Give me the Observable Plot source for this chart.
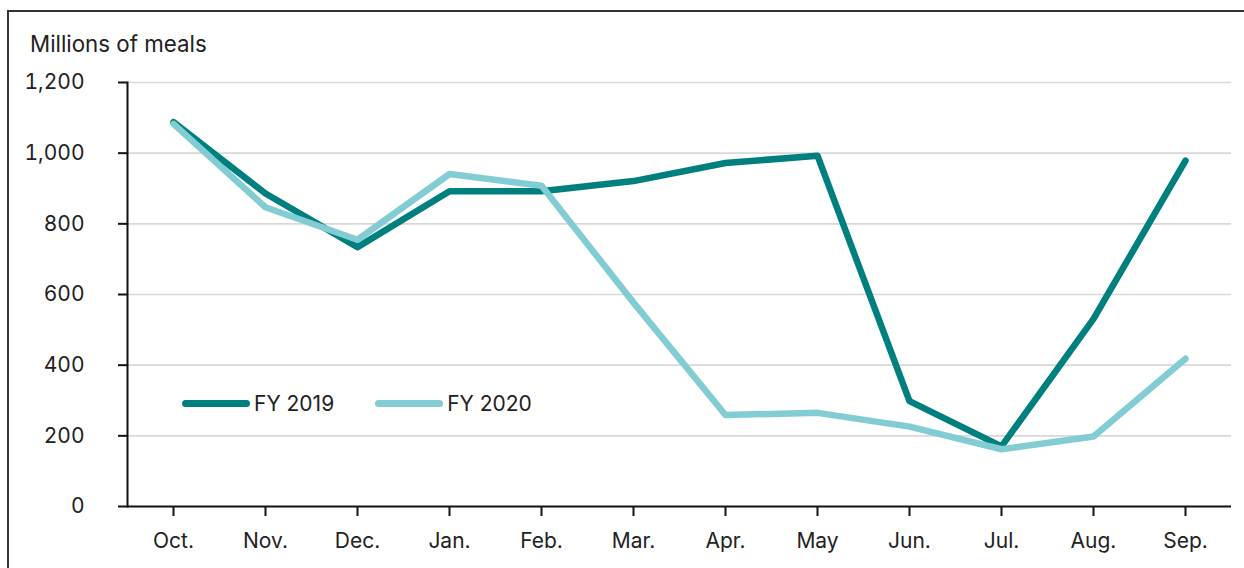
<!DOCTYPE html>
<html>
<head>
<meta charset="utf-8">
<script src="https://cdn.jsdelivr.net/npm/d3@7"></script>
<script src="https://cdn.jsdelivr.net/npm/@observablehq/plot@0.6"></script>
<style>
  html, body { margin: 0; padding: 0; background: #fff; overflow: hidden; }
  body { width: 1244px; height: 568px; position: relative; font-family: Inter, "Liberation Sans", sans-serif; color: #222; }
  #frame { position: absolute; left: 7px; top: 10px; width: 1260px; height: 580px; border-top: 2px solid #333; border-left: 2px solid #333; }
  #title { position: absolute; left: 30px; top: 30px; font-size: 22.3px; line-height: 28px; color: #222; }
  #chart { position: absolute; left: 0; top: 60px; }
  #legend { position: absolute; top: 391px; left: 182px; display: flex; align-items: center; font-size: 21px; color: #222; }
  .item { display: flex; align-items: center; margin-right: 41px; }
  .swatch { width: 68px; height: 7px; border-radius: 4px; margin-right: 4px; }
</style>
</head>
<body>
<div id="frame"></div>
<div id="title">Millions of meals</div>
<div id="chart"></div>
<div id="legend"></div>
<script>
const months = ["Oct.", "Nov.", "Dec.", "Jan.", "Feb.", "Mar.", "Apr.", "May", "Jun.", "Jul.", "Aug.", "Sep."];
const fy2019 = [1088, 886, 734, 892, 892, 921, 972, 993, 298, 170, 531, 979];
const fy2020 = [1083, 847, 755, 941, 908, 577, 259, 265, 226, 162, 198, 418];
const seriesNames = ["FY 2019", "FY 2020"];
const seriesColors = ["#007f7f", "#82ccd4"];
const yTicks = [0, 200, 400, 600, 800, 1000, 1200];

const data = [];
months.forEach((m, i) => {
  data.push({month: m, series: seriesNames[0], value: fy2019[i]});
  data.push({month: m, series: seriesNames[1], value: fy2020[i]});
});

const chart = Plot.plot({
  width: 1244,
  height: 508,
  marginLeft: 127,
  marginRight: 13,
  marginTop: 22,
  marginBottom: 62,
  style: {fontFamily: "Inter, 'Liberation Sans', sans-serif", fontSize: "21px", color: "#222", background: "transparent"},
  x: {type: "band", domain: months, padding: 0, label: null},
  y: {domain: [0, 1200], label: null},
  color: {domain: seriesNames, range: seriesColors},
  marks: [
    Plot.gridY(yTicks.filter(d => d > 0), {stroke: "#d9d9d9", strokeOpacity: 1, strokeWidth: 1.6}),
    Plot.frame({anchor: "left", stroke: "#111", strokeWidth: 2}),
    Plot.ruleY([0], {stroke: "#111", strokeWidth: 2}),
    Plot.axisY({ticks: yTicks, tickFormat: d3.format(","), tickSize: 9, tickPadding: 34, strokeWidth: 2, stroke: "#111", fill: "#222", label: null}),
    Plot.axisX({tickSize: 10, tickPadding: 17, strokeWidth: 2, stroke: "#111", fill: "#222", label: null}),
    Plot.line(data, {x: "month", y: "value", z: "series", stroke: "series", strokeWidth: 6.5, strokeLinecap: "round", strokeLinejoin: "round"})
  ]
});
document.getElementById("chart").appendChild(chart);

const legend = document.getElementById("legend");
seriesNames.forEach((name, i) => {
  const item = document.createElement("div");
  item.className = "item";
  const sw = document.createElement("div");
  sw.className = "swatch";
  sw.style.background = seriesColors[i];
  const label = document.createElement("span");
  label.textContent = name;
  item.appendChild(sw);
  item.appendChild(label);
  legend.appendChild(item);
});
</script>
</body>
</html>
